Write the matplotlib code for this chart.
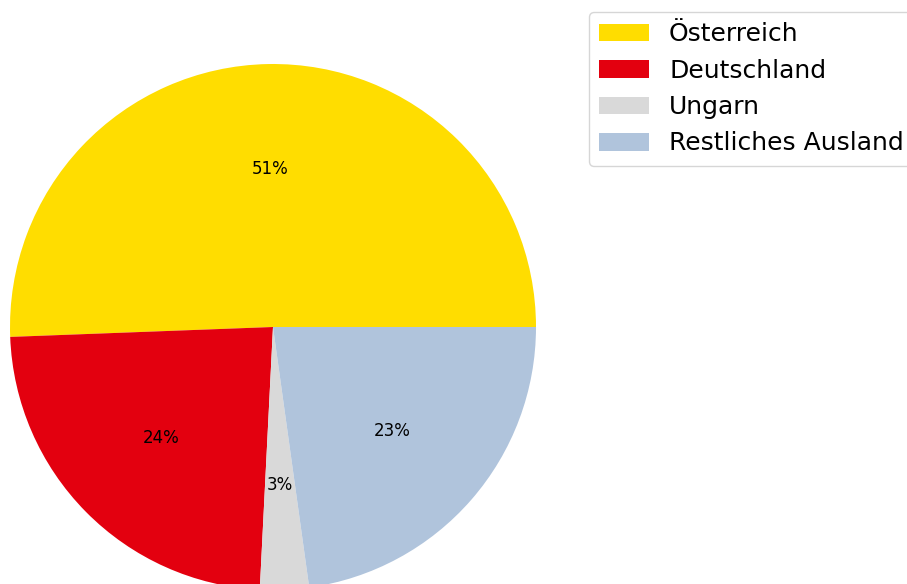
import matplotlib.pyplot as plt

# Herkunft der Gäste (Anteile in %)
labels = ['Österreich', 'Deutschland', 'Ungarn', 'Restliches Ausland']
shares = [50.6, 23.6, 3.0, 22.8]
colors = ['#FFDD00', '#E3000F', '#D9D9D9', '#B0C4DC']

fig = plt.figure(figsize=(9.07, 5.84), dpi=100)
ax = fig.add_axes([10 / 907, -6 / 584, 526 / 907, 526 / 584])

wedges, texts, autotexts = ax.pie(shares, colors=colors, autopct='%1.0f%%',
                                  startangle=0, counterclock=True,
                                  textprops={'fontsize': 12})
ax.set_xlim(-1, 1)
ax.set_ylim(-1, 1)

fig.legend(wedges, labels, loc='upper left', fontsize=18, labelspacing=0.5,
           bbox_to_anchor=(589 / 907, 1 - 12 / 584), borderaxespad=0)

fig.savefig('out.png', dpi=100)
